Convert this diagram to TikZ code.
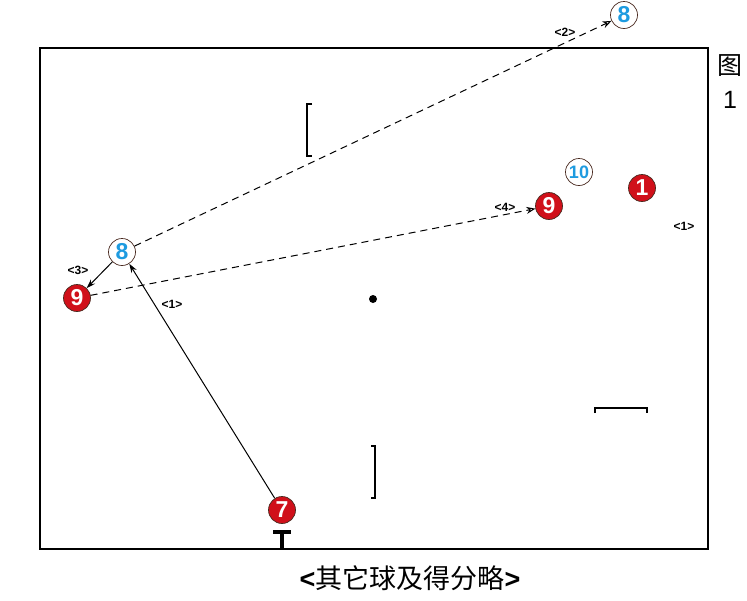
\documentclass[tikz,border=0pt]{standalone}
\usepackage{fontspec}
\setmainfont{Liberation Sans}
\newfontfamily\cjk{Noto Sans CJK SC}
\usetikzlibrary{arrows.meta}
\definecolor{ballred}{HTML}{D0101A}
\definecolor{ballblue}{HTML}{1E9BE0}
\definecolor{ringc}{HTML}{4A2A20}
\tikzset{
  redball/.style={circle, fill=ballred, draw=ringc, line width=0.7pt, minimum size=27pt, inner sep=0pt, text=white, font=\bfseries\fontsize{23}{23}\selectfont},
  blueball/.style={circle, fill=white, draw=ringc, line width=0.7pt, minimum size=27pt, inner sep=0pt, text=ballblue, font=\bfseries\fontsize{23}{23}\selectfont},
  lbl/.style={font=\bfseries\fontsize{12}{12}\selectfont, inner sep=0pt},
  shot/.style={line width=1pt, -{Stealth[length=9pt,width=6pt]}},
  dshot/.style={line width=1pt, dash pattern=on 7pt off 5pt, -{Stealth[open, length=9pt,width=7pt]}},
  bar/.style={line width=1.4pt},
}
\begin{document}
\begin{tikzpicture}[x=1pt,y=-1pt]
\useasboundingbox (0,0) rectangle (747,600);
% table
\draw[line width=2.4pt] (40,48) rectangle (708,549);
% brackets
\draw[bar] (312,104) -- (307,104) -- (307,156) -- (312,156);
\draw[bar] (371,446) -- (375,446) -- (375,498) -- (371,498);
\draw[bar] (595,413) -- (595,408) -- (647,408) -- (647,413);
% spot
\node[circle, fill=black, minimum size=8pt, inner sep=0pt] (spot) at (373,299) {};
% balls
\node[blueball] (b8top) at (624,15) {8};
\node[blueball, font=\bfseries\fontsize{18}{18}\selectfont] (b10) at (579,172) {10};
\node[redball] (b1) at (642,188) {1};
\node[redball] (b9r) at (549,206) {9};
\node[blueball] (b8l) at (122,252) {8};
\node[redball] (b9l) at (77,298) {9};
\node[redball] (b7) at (282,510) {7};
% cue marker T
\draw[line width=4pt] (273,532) -- (291,532);
\draw[line width=4pt] (282,532) -- (282,548);
% shots
\draw[shot] (b7) -- (b8l);
\draw[shot] (b8l) -- (b9l);
\draw[dshot] (b8l) -- (b8top);
\draw[dshot] (b9l) -- (b9r);
% labels
\node[lbl] (l2) at (565,32) {<2>};
\node[lbl] (l4) at (505,207) {<4>};
\node[lbl] (l3) at (78,270) {<3>};
\node[lbl] (l1a) at (172,304) {<1>};
\node[lbl] (l1b) at (684,226) {<1>};
\node[font=\cjk\fontsize{25}{25}\selectfont] (fig) at (730,66) {图};
\node[font=\fontsize{25}{25}\selectfont] (fign) at (730,100) {1};
\node[font=\fontsize{27}{27}\selectfont] (cap) at (410,578) {\textbf{<}{\cjk 其它球及得分略}\textbf{>}};
\end{tikzpicture}
\end{document}
